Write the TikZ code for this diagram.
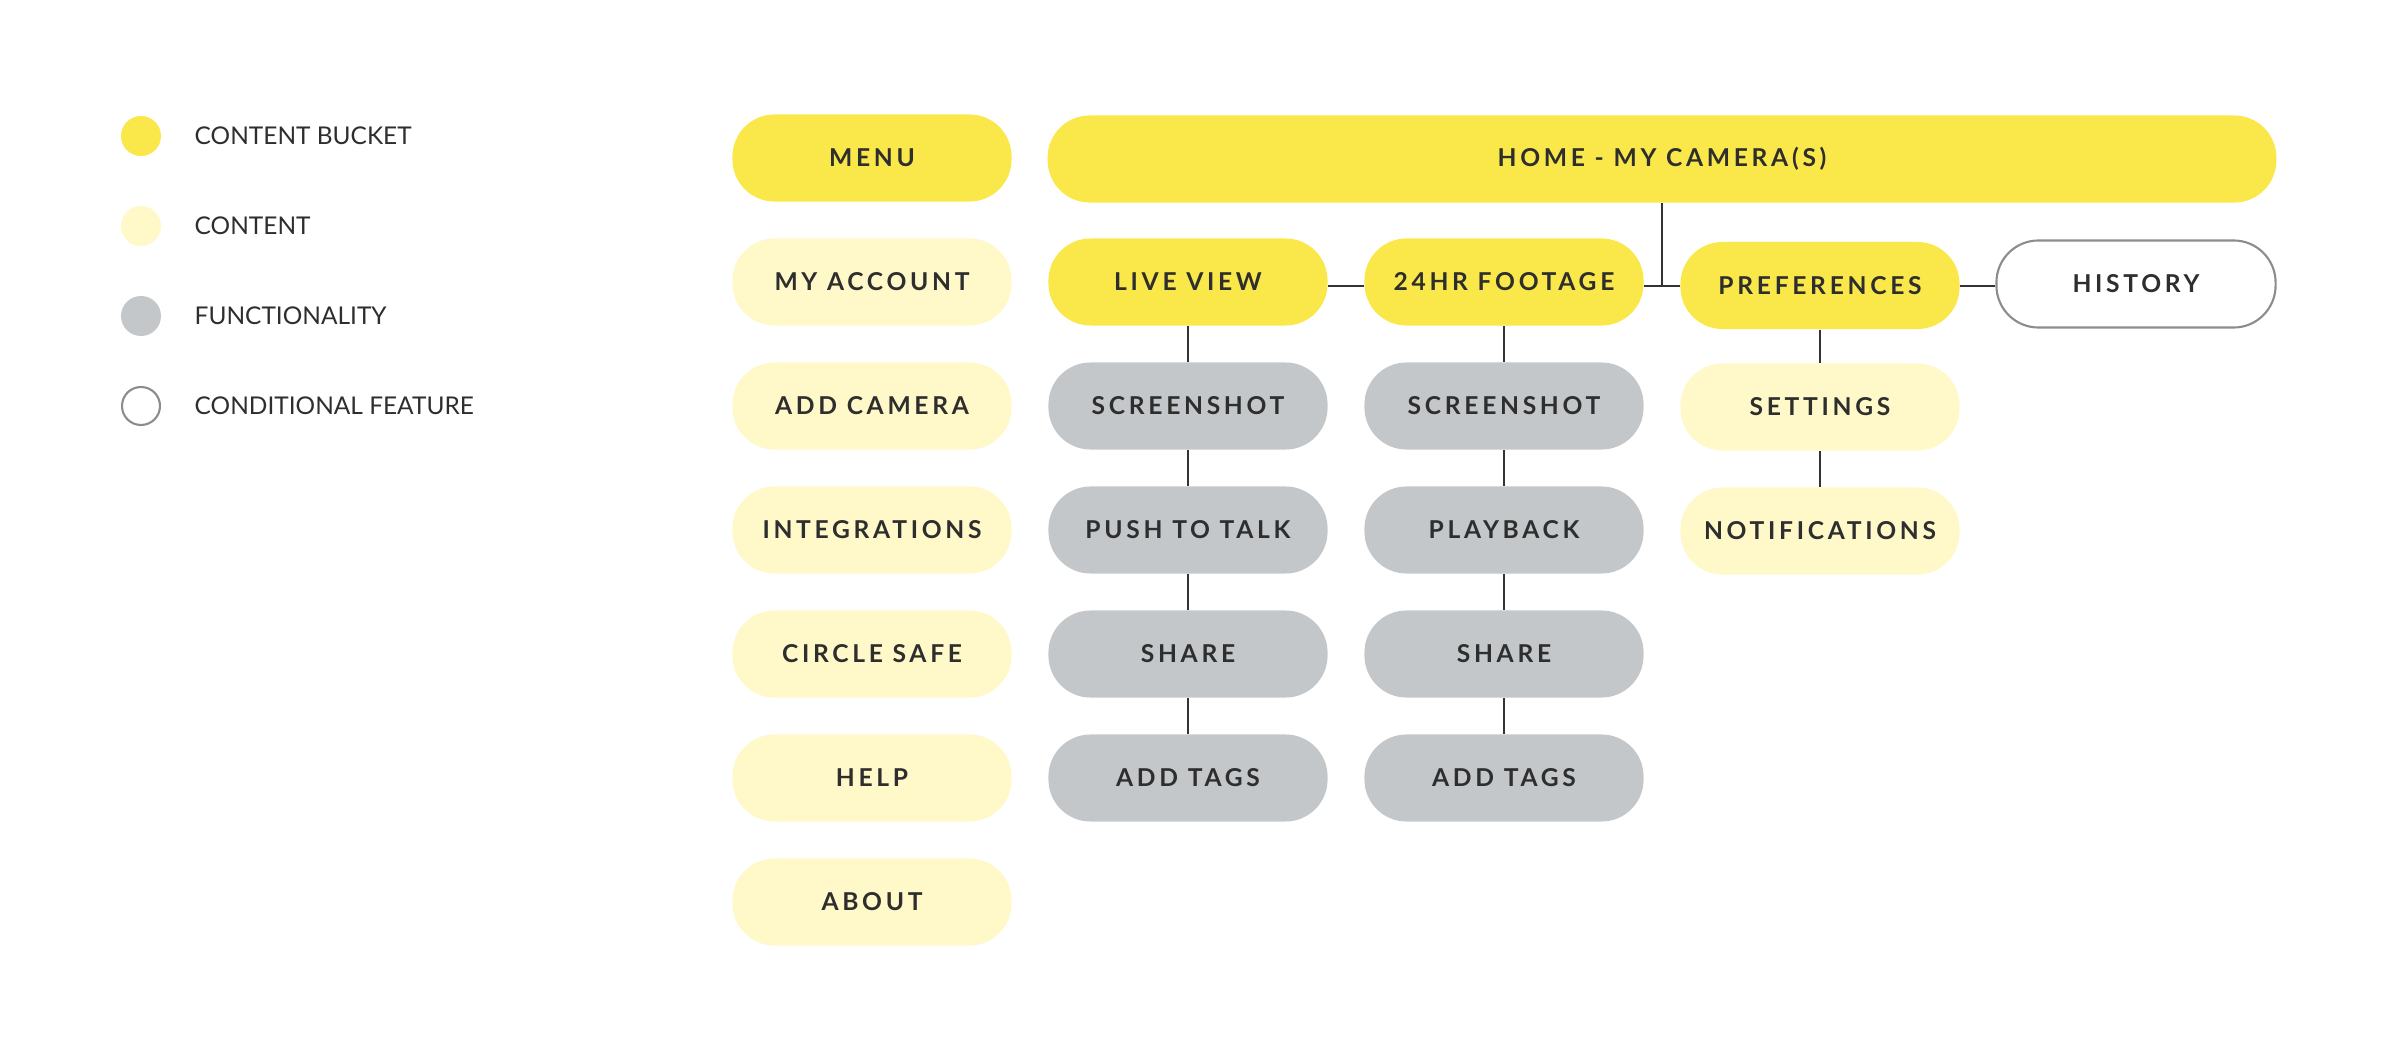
\documentclass[tikz,border=0pt]{standalone}
\usepackage{fontspec}
\setmainfont{Lato}
\newfontfamily\nodefont{Lato}[LetterSpace=15]
\definecolor{bucket}{HTML}{FAE84A}
\definecolor{content}{HTML}{FFF8C8}
\definecolor{func}{HTML}{C4C7C9}
\definecolor{txt}{HTML}{2E2E2E}
\definecolor{cond}{HTML}{8C8C8C}
\definecolor{wire}{HTML}{333333}
\begin{document}
\begin{tikzpicture}[x=0.01cm,y=-0.01cm,
  box/.style={rounded corners=0.42cm, minimum width=2.79cm, minimum height=0.87cm, inner sep=0pt,
    font=\nodefont\bfseries\fontsize{7}{8}\selectfont, text=txt},
  bucketbox/.style={box, fill=bucket},
  contentbox/.style={box, fill=content},
  funcbox/.style={box, fill=func},
  condbox/.style={box, draw=cond, line width=0.6pt, fill=white},
  legdot/.style={circle, minimum size=0.4cm, inner sep=0pt},
  legtext/.style={anchor=west, inner sep=0pt, text=txt, font=\fontsize{6.95}{8}\selectfont},
  wire/.style={draw=wire, line width=0.6pt}]
\useasboundingbox (0,0) rectangle (2400,1046);
% legend
\node[legdot, fill=bucket] (l1) at (141,136) {};
\node[legdot, fill=content] (l2) at (141,226) {};
\node[legdot, fill=func] (l3) at (141,316) {};
\node[legdot, draw=cond, line width=0.6pt, fill=white, minimum size=0.38cm] (l4) at (141,406) {};
\node[legtext] (t1) at (194,136) {CONTENT BUCKET};
\node[legtext] (t2) at (194,226) {CONTENT};
\node[legtext] (t3) at (194,316) {FUNCTIONALITY};
\node[legtext] (t4) at (194,406) {CONDITIONAL FEATURE};
% menu column
\node[bucketbox] (menu) at (872,158) {MENU};
\node[contentbox] (acct) at (872,282) {MY ACCOUNT};
\node[contentbox] (addcam) at (872,406) {ADD CAMERA};
\node[contentbox] (integ) at (872,530) {INTEGRATIONS};
\node[contentbox] (circ) at (872,654) {CIRCLE SAFE};
\node[contentbox] (help) at (872,778) {HELP};
\node[contentbox] (about) at (872,902) {ABOUT};
% home
\node[bucketbox, minimum width=12.28cm] (home) at (1662,159) {HOME - MY CAMERA(S)};
\node[bucketbox] (live) at (1188,282) {LIVE VIEW};
\node[bucketbox] (foot) at (1504,282) {24HR FOOTAGE};
\node[bucketbox] (pref) at (1820,285.5) {PREFERENCES};
\node[condbox] (hist) at (2136,284) {HISTORY};
% live column
\node[funcbox] (ls1) at (1188,406) {SCREENSHOT};
\node[funcbox] (ls2) at (1188,530) {PUSH TO TALK};
\node[funcbox] (ls3) at (1188,654) {SHARE};
\node[funcbox] (ls4) at (1188,778) {ADD TAGS};
% footage column
\node[funcbox] (fs1) at (1504,406) {SCREENSHOT};
\node[funcbox] (fs2) at (1504,530) {PLAYBACK};
\node[funcbox] (fs3) at (1504,654) {SHARE};
\node[funcbox] (fs4) at (1504,778) {ADD TAGS};
% preferences column
\node[contentbox] (set) at (1820,407) {SETTINGS};
\node[contentbox] (notif) at (1820,531) {NOTIFICATIONS};
% connectors
\coordinate (j) at (1662,286);
\draw[wire] (home.south) -- (j);
\draw[wire] (live.east |- j) -- (foot.west |- j);
\draw[wire] (foot.east |- j) -- (pref.west |- j);
\draw[wire] (pref.east |- j) -- (hist.west |- j);
\draw[wire] (live) -- (ls1);
\draw[wire] (ls1) -- (ls2);
\draw[wire] (ls2) -- (ls3);
\draw[wire] (ls3) -- (ls4);
\draw[wire] (foot) -- (fs1);
\draw[wire] (fs1) -- (fs2);
\draw[wire] (fs2) -- (fs3);
\draw[wire] (fs3) -- (fs4);
\draw[wire] (pref) -- (set);
\draw[wire] (set) -- (notif);
\end{tikzpicture}
\end{document}
